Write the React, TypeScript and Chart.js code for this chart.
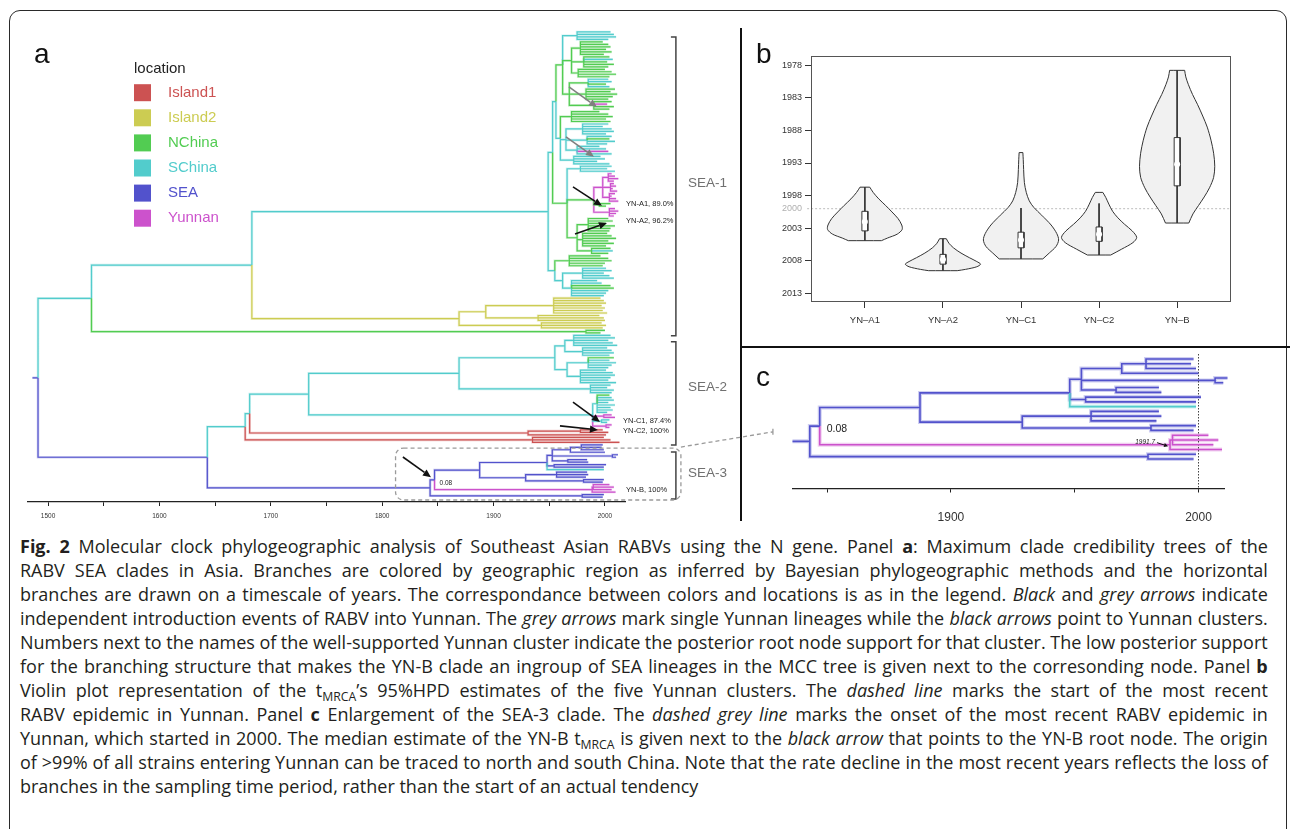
import React, { useEffect, useRef } from 'react';
import { Chart, registerables } from 'chart.js';

Chart.register(...registerables);

const FONT = '"Liberation Sans", Arial, Helvetica, sans-serif';
Chart.defaults.font.family = FONT;

// ---------------- locations / legend ----------------
const legendTitle = 'location';
const locationNames = ['Island1', 'Island2', 'NChina', 'SChina', 'SEA', 'Yunnan'];
const locationCodes = ['R', 'Y', 'G', 'C', 'B', 'P'];
const locationColors = ['#cc5252', '#cccc52', '#52cc52', '#52cccc', '#5252cc', '#cc52cc'];
const locationHalo = ['rgba(204,82,82,0.28)', 'rgba(204,204,82,0.28)', 'rgba(82,204,82,0.28)', 'rgba(82,204,204,0.28)', 'rgba(82,82,204,0.28)', 'rgba(204,82,204,0.28)'];

// ---------------- trees (location code + node/tip year, children in brackets) ----------------
const sea3Tree = `B1843(
  B1847(
    B1887.5(
      B1948(
        B1952.7(
          B1969(B1978.8(B1998,B1997,B1999),B2000),
          B2006.7(B2011.7,B2010),
          B1966.7(B1984,B1985)
        ),
        B1954.4(B2001,B1999),
        C1999
      ),
      B1928.8(
        B1956.6(B1984,B1985,B1983),
        B1980.8(B1999,B1998)
      )
    ),
    P1988.5(P1989.5(P2004,P2008,P2006),P2009.5)
  ),
  B1979.6(B1999,B1998)
)`;

const sea1ChinaTree = `C1949(
  C1953(
    C1956(
      G1962(
        C1975(C2005,C2008,C2010,C2003),
        G1970(
          G1978(G1998,G2003,G2005,G2001,G2006,G1999),
          G1981(G2004,C2007,G2002,G2008,G2003),
          G1976(G2000,G2006,G2010,G2004)
        ),
        G1968(
          G1985(C2003,C2006,G2001,C2004),
          G1983(G2009,G2005,G2011,G2007,G2003),
          G1990(G2006,P2002,G2008,G2004)
        )
      ),
      C1960(
        G1970(G1995,G2003,G2007,G2001,G2005),
        C1965(
          C1980(C2003,C1998,C2006,C2008,C2001),
          C1984(C2006,G2004,C2009,C2002),
          C1975(C1995,C2001,P2003,C2006)
        ),
        C1972(C1996,C2000,C1993,C2004)
      )
    ),
    G1966(
      C1978(C2006,C2002,C2009),
      G1990(
        P1998(P2003(P2006,P2009,P2012,P2008),P2005(P2008,P2010,P2007,P2011),P2004(P2009,P2006,P2010,P2012)),
        G1995(G2005,G2001),
        P2004(P2009,P2012,P2010,P2008)
      ),
      G1975(
        G1985(G2003,G2007,G2001,G2009,G2005,G2004),
        G1980(G2002,G2006,G2010,G2003,G2008,G2001),
        G1988(G2005,C2007,G2003)
      )
    )
  ),
  C1955(
    G1968(G1996,G2003,G2006,G2000,G1998),
    C1962(
      C1980(C2001,C2006,C1999,C2004,C2008),
      C1970(C1993,C1997,G2005,G2008,C2003,C2001,C1999)
    )
  )
)`;

const island2Tree = `Y1869(
  Y1893(
    Y1954(Y1996,Y1999,Y2001,Y1997,Y2000,Y1998,Y2002),
    Y1940(Y1995,Y1999,Y2000)
  ),
  Y1943(Y1997,Y2001,Y1998)
)`;

const nChinaLineage = `G1983(G2000,G1996)`;

const sea2Tree = `C1677(
  C1681(
    C1734(
      C1869(
        C1955(
          C1964(
            C1972(C2005,C2009,C2003,C2007,C2011),
            C1980(C2002,C2006,C2008,C2004)
          ),
          C1966(
            C1985(G2008,C2004,C2010,C2006,C2003),
            C1978(C2001,C2007,C2009,C2005,C2003,C2010)
          )
        ),
        C1987(C2005,C2002,C2008,C2006)
      ),
      C1989(
        C1993(G2004,C2006,C2008,C2003,C2009,C2005,C2007,C2002),
        P1999(P2006,P2009),
        C1997(C2004,C2002),
        P2001(P2006,P2004)
      )
    ),
    R1931(R1978(R1998,R2003),R2001)
  ),
  R1935(R1999,R2005,R2013)
)`;

const treeA = `B1491(C1539(C1683(${sea1ChinaTree},${island2Tree}),${nChinaLineage}),B1643(${sea2Tree},${sea3Tree}))`;
const rootStubA = 1486;
const rootStubC = 1836;

// ---------------- axes ----------------
const axisRangeA = [1482, 2018];
const axisTicksA = [1500, 1550, 1600, 1650, 1700, 1750, 1800, 1850, 1900, 1950, 2000];
const axisLabelsA = [1500, 1600, 1700, 1800, 1900, 2000];
const axisRangeC = [1836, 2010.3];
const axisTicksC = [1850, 1900, 1950, 2000];
const axisLabelsC = [1900, 2000];
const epidemicStart = 2000;

// ---------------- annotations for panel a (year, tip row) ----------------
const seaClades = ['SEA-1', 'SEA-2', 'SEA-3'];
const seaBracketRows = [[2.0, 122.2], [124.6, 166.1], [168.9, 187.8]];
const seaLabelRows = [60.7, 142.7, 177.3];
const clusterLabels = ['YN-A1, 89.0%', 'YN-A2, 96.2%', 'YN-C1, 87.4%', 'YN-C2, 100%', 'YN-B, 100%'];
const clusterLabelPos = [[2018.9, 69.2], [2018.9, 76.0], [2016.2, 156.4], [2016.2, 160.4], [2018.9, 184.2]];
const greyArrows = [[1967.7, 22.1, 1992.8, 30.2], [1965.0, 42.2, 1990.1, 50.2]];
const blackArrows = [
  [1971.3, 62.3, 1997.3, 69.9],
  [1973.1, 81.2, 2001.8, 76.8],
  [1971.3, 148.8, 1995.5, 156.8],
  [1959.6, 158.4, 1993.7, 160.0],
  [1818.6, 170.9, 1843.8, 179.0],
];
const supportSEA3 = '0.08';
const tmrcaYNB = '1991.7';

// ---------------- violins (panel b) ----------------
const clusters = ['YN\u2013A1', 'YN\u2013A2', 'YN\u2013C1', 'YN\u2013C2', 'YN\u2013B'];
const violinTicks = [1978, 1983, 1988, 1993, 1998, 2000, 2003, 2008, 2013];
const violinRange = [1976.6, 2014.3];
const violinYnA1 = [[1996.7, 0.13], [1997.5, 0.22], [1998.5, 0.37], [1999.5, 0.55], [2000.5, 0.72], [2001.5, 0.88], [2002.5, 0.98], [2003.2, 0.99], [2003.9, 0.86], [2004.5, 0.6], [2004.9, 0.44]];
const violinYnA2 = [[2004.6, 0.09], [2005.3, 0.16], [2006.0, 0.28], [2006.8, 0.48], [2007.5, 0.7], [2008.1, 0.9], [2008.5, 1.0], [2008.9, 0.9], [2009.3, 0.6], [2009.5, 0.38]];
const violinYnC1 = [[1991.4, 0.05], [1992.5, 0.06], [1994, 0.07], [1996, 0.09], [1997.5, 0.14], [1998.8, 0.22], [1999.8, 0.34], [2001, 0.55], [2002.5, 0.8], [2003.8, 0.95], [2004.8, 1.0], [2005.8, 0.93], [2006.8, 0.75], [2007.7, 0.58]];
const violinYnC2 = [[1997.5, 0.1], [1998.3, 0.18], [1999.3, 0.26], [2000.4, 0.36], [2001.4, 0.5], [2002.4, 0.68], [2003.4, 0.88], [2004.4, 1.0], [2005.2, 0.9], [2006.2, 0.6], [2007.1, 0.31]];
const violinYnB = [[1978.8, 0.2], [1979.8, 0.23], [1981, 0.3], [1982.5, 0.41], [1984, 0.54], [1985.8, 0.68], [1987.5, 0.8], [1989.5, 0.9], [1991.5, 0.97], [1993.5, 1.0], [1995.2, 0.97], [1996.8, 0.86], [1998.2, 0.72], [1999.5, 0.57], [2000.8, 0.42], [2002.2, 0.31]];
const violinProfiles = [violinYnA1, violinYnA2, violinYnC1, violinYnC2, violinYnB];
const boxQ1 = [2000.4, 2007.0, 2003.6, 2002.8, 1989.1];
const boxMedian = [2002.0, 2007.8, 2004.8, 2003.9, 1993.2];
const boxQ3 = [2003.4, 2008.5, 2006.0, 2005.0, 1996.5];
const whiskerLow = [1996.7, 2004.6, 1999.9, 1999.2, 1978.8];
const whiskerHigh = [2004.9, 2009.5, 2007.7, 2007.1, 2002.2];

// ---------------- caption ----------------
const captionLines = [
  '**Fig. 2** Molecular clock phylogeographic analysis of Southeast Asian RABVs using the N gene. Panel **a**: Maximum clade credibility trees of the',
  'RABV SEA clades in Asia. Branches are colored by geographic region as inferred by Bayesian phylogeographic methods and the horizontal',
  'branches are drawn on a timescale of years. The correspondance between colors and locations is as in the legend. *Black* and *grey arrows* indicate',
  'independent introduction events of RABV into Yunnan. The *grey arrows* mark single Yunnan lineages while the *black arrows* point to Yunnan clusters.',
  'Numbers next to the names of the well-supported Yunnan cluster indicate the posterior root node support for that cluster. The low posterior support',
  'for the branching structure that makes the YN-B clade an ingroup of SEA lineages in the MCC tree is given next to the corresonding node. Panel **b**',
  'Violin plot representation of the t_{MRCA}\u2019s 95%HPD estimates of the five Yunnan clusters. The *dashed line* marks the start of the most recent',
  'RABV epidemic in Yunnan. Panel **c** Enlargement of the SEA-3 clade. The *dashed grey line* marks the onset of the most recent RABV epidemic in',
  'Yunnan, which started in 2000. The median estimate of the YN-B t_{MRCA} is given next to the *black arrow* that points to the YN-B root node. The origin',
  'of >99% of all strains entering Yunnan can be traced to north and south China. Note that the rate decline in the most recent years reflects the loss of',
  'branches in the sampling time period, rather than the start of an actual tendency',
];

// ================= helpers =================
type TNode = { loc: string; t: number; kids: TNode[]; y: number };

function parseTree(src: string): TNode {
  let i = 0;
  const ws = () => { while (i < src.length && /\s/.test(src[i])) i++; };
  const read = (): TNode => {
    ws();
    const loc = src[i++];
    let num = '';
    while (i < src.length && /[0-9.]/.test(src[i])) num += src[i++];
    const node: TNode = { loc, t: parseFloat(num), kids: [], y: 0 };
    ws();
    if (src[i] === '(') {
      i++;
      for (;;) {
        node.kids.push(read());
        ws();
        const c = src[i++];
        if (c === ')') break;
        if (c !== ',') throw new Error('tree syntax at ' + i);
      }
    }
    return node;
  };
  return read();
}

function layoutTree(root: TNode): number {
  let next = 0;
  const walk = (n: TNode) => {
    if (!n.kids.length) { n.y = next++; return; }
    n.kids.forEach(walk);
    n.y = (n.kids[0].y + n.kids[n.kids.length - 1].y) / 2;
  };
  walk(root);
  return next;
}

function findNode(n: TNode, loc: string, t: number): TNode | null {
  if (n.loc === loc && n.t === t) return n;
  for (const k of n.kids) { const f = findNode(k, loc, t); if (f) return f; }
  return null;
}

function treeSegments(root: TNode, stubStart: number) {
  const byLoc: Record<string, { x: number; y: number }[]> = {};
  locationCodes.forEach((c) => (byLoc[c] = []));
  const gap = () => ({ x: NaN, y: NaN });
  byLoc[root.loc].push({ x: stubStart, y: root.y }, { x: root.t, y: root.y }, gap());
  const walk = (n: TNode) => n.kids.forEach((k) => {
    byLoc[k.loc].push({ x: n.t, y: n.y }, { x: n.t, y: k.y }, { x: k.t, y: k.y }, gap());
    walk(k);
  });
  walk(root);
  return byLoc;
}

function treeDatasets(root: TNode, stubStart: number, width: number, colors: string[]) {
  const byLoc = treeSegments(root, stubStart);
  return locationCodes.map((c, i) => ({
    data: byLoc[c],
    borderColor: colors[i],
    backgroundColor: colors[i],
    borderWidth: width,
    pointRadius: 0,
    pointHoverRadius: 0,
    tension: 0,
    fill: false,
    spanGaps: false,
    clip: false as any,
    borderJoinStyle: 'miter' as const,
    borderCapStyle: 'butt' as const,
  }));
}

function arrow(ctx: CanvasRenderingContext2D, x1: number, y1: number, x2: number, y2: number, color: string, lw: number, hl = 8, hw = 3.6) {
  const a = Math.atan2(y2 - y1, x2 - x1);
  const bx = x2 - hl * Math.cos(a);
  const by = y2 - hl * Math.sin(a);
  ctx.strokeStyle = color;
  ctx.fillStyle = color;
  ctx.lineWidth = lw;
  ctx.beginPath();
  ctx.moveTo(x1, y1);
  ctx.lineTo(bx, by);
  ctx.stroke();
  ctx.beginPath();
  ctx.moveTo(x2, y2);
  ctx.lineTo(bx + hw * Math.sin(a), by - hw * Math.cos(a));
  ctx.lineTo(bx - hw * Math.sin(a), by + hw * Math.cos(a));
  ctx.closePath();
  ctx.fill();
}

function renderWords(line: string) {
  let bold = false;
  let italic = false;
  return line.split(' ').map((w, wi) => {
    const parts: React.ReactNode[] = [];
    let buf = '';
    let k = 0;
    const flush = () => {
      if (buf) {
        parts.push(<span key={k++} style={{ fontWeight: bold ? 700 : 400, fontStyle: italic ? 'italic' : 'normal' }}>{buf}</span>);
        buf = '';
      }
    };
    let i = 0;
    while (i < w.length) {
      if (w.startsWith('**', i)) { flush(); bold = !bold; i += 2; }
      else if (w[i] === '*') { flush(); italic = !italic; i += 1; }
      else if (w.startsWith('_{', i)) {
        flush();
        const j = w.indexOf('}', i);
        parts.push(<span key={k++} style={{ fontSize: '0.68em', position: 'relative', top: '0.32em' }}>{w.slice(i + 2, j)}</span>);
        i = j + 1;
      } else { buf += w[i]; i += 1; }
    }
    flush();
    return <span key={wi} style={{ whiteSpace: 'nowrap' }}>{parts}</span>;
  });
}

// ================= component =================
export default function App() {
  const refA = useRef<HTMLCanvasElement>(null);
  const refB = useRef<HTMLCanvasElement>(null);
  const refC = useRef<HTMLCanvasElement>(null);

  useEffect(() => {
    const rootA = parseTree(treeA);
    const tipsA = layoutTree(rootA);
    const rootC = parseTree(sea3Tree);
    layoutTree(rootC);
    const nodeA008 = findNode(rootA, 'B', 1847)!;
    const nodeC008 = findNode(rootC, 'B', 1847)!;
    const nodeCynb = findNode(rootC, 'P', 1988.5)!;

    // ---------- panel a ----------
    const annotA = {
      id: 'annotA',
      afterDraw(chart: any) {
        const ctx: CanvasRenderingContext2D = chart.ctx;
        const X = (v: number) => chart.scales.x.getPixelForValue(v);
        const Y = (v: number) => chart.scales.y.getPixelForValue(v);
        ctx.save();
        ctx.textAlign = 'left';
        ctx.fillStyle = '#111';
        ctx.font = `28px ${FONT}`;
        ctx.textBaseline = 'alphabetic';
        ctx.fillText('a', 34, 63);
        // legend
        ctx.font = `15px ${FONT}`;
        ctx.textBaseline = 'middle';
        ctx.fillStyle = '#222';
        ctx.fillText(legendTitle, 134, 69);
        locationNames.forEach((name, i) => {
          const cy = 92.7 + i * 25.1;
          ctx.fillStyle = locationColors[i];
          ctx.fillRect(134, cy - 8.5, 17, 17);
          ctx.fillText(name, 168, cy);
        });
        // brackets
        const bx = X(2063.7);
        ctx.lineWidth = 1.5;
        ctx.strokeStyle = '#444';
        ctx.font = `13.5px ${FONT}`;
        seaClades.forEach((name, i) => {
          const [r0, r1] = seaBracketRows[i];
          ctx.beginPath();
          ctx.moveTo(bx - 5, Y(r0));
          ctx.lineTo(bx, Y(r0));
          ctx.lineTo(bx, Y(r1));
          ctx.lineTo(bx - 5, Y(r1));
          ctx.stroke();
          ctx.fillStyle = '#707070';
          ctx.fillText(name, bx + 12, Y(seaLabelRows[i]));
        });
        // arrows
        greyArrows.forEach(([a, b, c, d]) => arrow(ctx, X(a), Y(b), X(c), Y(d), '#808080', 1.6));
        blackArrows.forEach(([a, b, c, d]) => arrow(ctx, X(a), Y(b), X(c), Y(d), '#111', 1.6));
        // cluster labels
        ctx.fillStyle = '#222';
        ctx.font = `7.5px ${FONT}`;
        clusterLabels.forEach((t, i) => ctx.fillText(t, X(clusterLabelPos[i][0]), Y(clusterLabelPos[i][1])));
        ctx.font = `6.5px ${FONT}`;
        ctx.fillText(supportSEA3, X(nodeA008.t) + 5, Y(nodeA008.y) + 3);
        // dashed rounded box around SEA-3 and connector to panel c
        ctx.strokeStyle = '#9a9a9a';
        ctx.lineWidth = 1.3;
        ctx.setLineDash([4, 3]);
        const rx0 = X(1812), rx1 = X(2068.2), ry0 = Y(167.3), ry1 = Y(188.2);
        ctx.beginPath();
        (ctx as any).roundRect(rx0, ry0, rx1 - rx0, ry1 - ry0, 8);
        ctx.stroke();
        ctx.beginPath();
        ctx.moveTo(rx1, ry0 - 1);
        ctx.lineTo(X(2150.8), Y(160.8));
        ctx.stroke();
        ctx.setLineDash([]);
        ctx.beginPath();
        ctx.moveTo(X(2150.8), Y(160.8) - 3);
        ctx.lineTo(X(2150.8), Y(160.8) + 3);
        ctx.stroke();
        ctx.restore();
      },
    };

    const dsA = treeDatasets(rootA, rootStubA, 1.2, locationColors);
    const dsAHalo = treeDatasets(rootA, rootStubA, 2.6, locationHalo);
    const chartA = new Chart(refA.current!, {
      type: 'line',
      data: { datasets: [...dsA, ...dsAHalo] as any },
      options: {
        animation: false,
        responsive: false,
        devicePixelRatio: 1,
        events: [],
        layout: { padding: { left: 28, right: 665, top: 27, bottom: 0 } },
        plugins: { legend: { display: false }, tooltip: { enabled: false } },
        scales: {
          x: {
            type: 'linear',
            min: axisRangeA[0],
            max: axisRangeA[1],
            afterBuildTicks: (s: any) => { s.ticks = axisTicksA.map((v) => ({ value: v })); },
            afterFit: (s: any) => { s.height = 23; },
            ticks: {
              callback: (v: any) => (axisLabelsA.includes(Number(v)) ? String(v) : ''),
              font: { size: 6.5 },
              color: '#333',
              padding: 6,
              maxRotation: 0,
              autoSkip: false,
            },
            grid: { drawOnChartArea: false, drawTicks: true, tickLength: 4, tickColor: '#222', tickWidth: 1 },
            border: { display: true, color: '#222', width: 1.3 },
          },
          y: { type: 'linear', display: false, reverse: true, min: -2, max: tipsA + 1 },
        },
      },
      plugins: [annotA],
    });

    // ---------- panel b ----------
    const VH = 0.482;
    const BW = 0.038;
    const violinPolys = violinProfiles.map((prof, i) => {
      const R = prof.map(([yr, w]) => ({ x: i + w * VH, y: yr }));
      const L = prof.map(([yr, w]) => ({ x: i - w * VH, y: yr })).reverse();
      return [R[0], ...R, R[R.length - 1], L[0], ...L, L[L.length - 1], R[0]];
    });
    const dsMedians = {
      data: boxMedian.map((m, i) => ({ x: i, y: m })),
      showLine: false,
      pointRadius: 3,
      pointBackgroundColor: '#ffffff',
      pointBorderWidth: 0,
      pointBorderColor: '#ffffff',
    };
    const dsBoxes = boxQ1.map((q1, i) => ({
      data: [
        { x: i - BW, y: q1 }, { x: i + BW, y: q1 }, { x: i + BW, y: boxQ3[i] }, { x: i - BW, y: boxQ3[i] }, { x: i - BW, y: q1 },
      ],
      borderColor: '#333', borderWidth: 1, backgroundColor: '#ffffff', fill: 'shape', tension: 0, pointRadius: 0,
    }));
    const dsWhiskers = whiskerLow.map((lo, i) => ({
      data: [{ x: i, y: lo }, { x: i, y: whiskerHigh[i] }],
      borderColor: '#333', borderWidth: 1, tension: 0, pointRadius: 0, fill: false,
    }));
    const dsViolins = violinPolys.map((poly) => ({
      data: poly, borderColor: '#333', borderWidth: 1, backgroundColor: '#f1f1f1', fill: 'shape', tension: 0.3, pointRadius: 0,
    }));
    const dsEpi = {
      data: [{ x: -0.74, y: epidemicStart }, { x: 4.69, y: epidemicStart }],
      borderColor: '#bdbdbd', borderWidth: 1, borderDash: [2, 2], pointRadius: 0, fill: false, clip: false as any,
    };
    const annotB = {
      id: 'annotB',
      afterDraw(chart: any) {
        const ctx: CanvasRenderingContext2D = chart.ctx;
        const a = chart.chartArea;
        ctx.save();
        ctx.strokeStyle = '#555';
        ctx.lineWidth = 1;
        ctx.strokeRect(a.left + 0.5, a.top + 0.5, a.right - a.left - 1, a.bottom - a.top - 1);
        ctx.fillStyle = '#111';
        ctx.font = `28px ${FONT}`;
        ctx.textBaseline = 'alphabetic';
        ctx.fillText('b', 14, 33);
        ctx.restore();
      },
    };
    const chartB = new Chart(refB.current!, {
      type: 'line',
      data: { datasets: [dsMedians, ...dsBoxes, ...dsWhiskers, ...dsViolins, dsEpi] as any },
      options: {
        animation: false,
        responsive: false,
        devicePixelRatio: 1,
        events: [],
        layout: { padding: { left: 0, right: 59, top: 26, bottom: 0 } },
        plugins: { legend: { display: false }, tooltip: { enabled: false } },
        scales: {
          x: {
            type: 'linear',
            min: -0.69,
            max: 4.69,
            afterBuildTicks: (s: any) => { s.ticks = clusters.map((_, i) => ({ value: i })); },
            afterFit: (s: any) => { s.height = 44; },
            ticks: { callback: (v: any) => clusters[Number(v)], font: { size: 9.5 }, color: '#333', padding: 7, autoSkip: false, maxRotation: 0 },
            grid: { drawOnChartArea: false, tickLength: 6, tickColor: '#333' },
            border: { display: false },
          },
          y: {
            type: 'linear',
            reverse: true,
            min: violinRange[0],
            max: violinRange[1],
            afterBuildTicks: (s: any) => { s.ticks = violinTicks.map((v) => ({ value: v })); },
            afterFit: (s: any) => { s.width = 69; },
            ticks: {
              callback: (v: any) => String(v),
              font: { size: 9 },
              color: (c: any) => (c.tick && c.tick.value === epidemicStart ? '#b0b0b0' : '#333'),
              padding: 3,
              autoSkip: false,
            },
            grid: {
              drawOnChartArea: false,
              tickLength: 6,
              tickColor: (c: any) => (c.tick && c.tick.value === epidemicStart ? 'rgba(0,0,0,0)' : '#333'),
            },
            border: { display: false },
          },
        },
      },
      plugins: [annotB],
    });

    // ---------- panel c ----------
    const annotC = {
      id: 'annotC',
      afterDraw(chart: any) {
        const ctx: CanvasRenderingContext2D = chart.ctx;
        const X = (v: number) => chart.scales.x.getPixelForValue(v);
        const Y = (v: number) => chart.scales.y.getPixelForValue(v);
        ctx.save();
        ctx.fillStyle = '#111';
        ctx.font = `28px ${FONT}`;
        ctx.textBaseline = 'alphabetic';
        ctx.fillText('c', 14, 38);
        ctx.font = `10.5px ${FONT}`;
        ctx.textBaseline = 'middle';
        ctx.fillStyle = '#222';
        ctx.fillText(supportSEA3, X(nodeC008.t) + 7, Y(nodeC008.y) + 3);
        const nx = X(nodeCynb.t), ny = Y(nodeCynb.y);
        ctx.font = `italic 6.5px ${FONT}`;
        ctx.textAlign = 'right';
        ctx.fillText(tmrcaYNB, nx - 15, ny - 3);
        arrow(ctx, nx - 13, ny - 2, nx - 2, ny + 1.5, '#111', 1, 4, 2);
        ctx.restore();
      },
    };
    const dsC = treeDatasets(rootC, rootStubC, 1.6, locationColors);
    const dsCHalo = treeDatasets(rootC, rootStubC, 4, locationHalo);
    const dsDotted = {
      data: [{ x: epidemicStart, y: -1.05 }, { x: epidemicStart, y: 27.2 }],
      borderColor: '#444', borderWidth: 1, borderDash: [1.5, 1.5], pointRadius: 0, fill: false,
    };
    const chartC = new Chart(refC.current!, {
      type: 'line',
      data: { datasets: [...dsC, dsDotted, ...dsCHalo] as any },
      options: {
        animation: false,
        responsive: false,
        devicePixelRatio: 1,
        events: [],
        layout: { padding: { left: 50.5, right: 66, top: 6, bottom: 0 } },
        plugins: { legend: { display: false }, tooltip: { enabled: false } },
        scales: {
          x: {
            type: 'linear',
            min: axisRangeC[0],
            max: axisRangeC[1],
            afterBuildTicks: (s: any) => { s.ticks = axisTicksC.map((v) => ({ value: v })); },
            afterFit: (s: any) => { s.height = 37.5; },
            ticks: {
              callback: (v: any) => (axisLabelsC.includes(Number(v)) ? String(v) : ''),
              font: { size: 12 },
              color: '#333',
              padding: 18,
              maxRotation: 0,
              autoSkip: false,
            },
            grid: { drawOnChartArea: false, tickLength: 4, tickColor: '#222' },
            border: { display: true, color: '#222', width: 1.2 },
          },
          y: { type: 'linear', display: false, reverse: true, min: -1.05, max: 27.2 },
        },
      },
      plugins: [annotC],
    });

    return () => {
      chartA.destroy();
      chartB.destroy();
      chartC.destroy();
    };
  }, []);

  return (
    <div style={{ position: 'fixed', left: 0, top: 0, width: 1290, height: 829, overflow: 'hidden', background: '#fff' }}>
      <div style={{ position: 'absolute', left: 9, top: 10, width: 1276, height: 900, border: '1.5px solid #2a2a2a', borderRadius: 11 }} />
      <div style={{ position: 'absolute', left: 740, top: 28, width: 2, height: 493, background: '#111' }} />
      <div style={{ position: 'absolute', left: 740, top: 346, width: 550, height: 2, background: '#111' }} />
      <canvas ref={refA} width={1290} height={525} style={{ position: 'absolute', left: 0, top: 0, width: 1290, height: 525 }} />
      <canvas ref={refB} width={548} height={316} style={{ position: 'absolute', left: 742, top: 30, width: 548, height: 316 }} />
      <canvas ref={refC} width={548} height={178} style={{ position: 'absolute', left: 742, top: 348, width: 548, height: 178 }} />
      <div style={{ position: 'absolute', left: 20, top: 534, width: 1248, fontFamily: '"Open Sans", "Noto Sans", sans-serif', fontSize: 18, color: '#231f20' }}>
        {captionLines.map((line, i) =>
          i < captionLines.length - 1 ? (
            <div key={i} style={{ display: 'flex', justifyContent: 'space-between', height: 24, lineHeight: '24px' }}>{renderWords(line)}</div>
          ) : (
            <div key={i} style={{ height: 24, lineHeight: '24px', whiteSpace: 'nowrap' }}>
              {renderWords(line).map((w, j) => <React.Fragment key={j}>{j ? ' ' : ''}{w}</React.Fragment>)}
            </div>
          )
        )}
      </div>
    </div>
  );
}
